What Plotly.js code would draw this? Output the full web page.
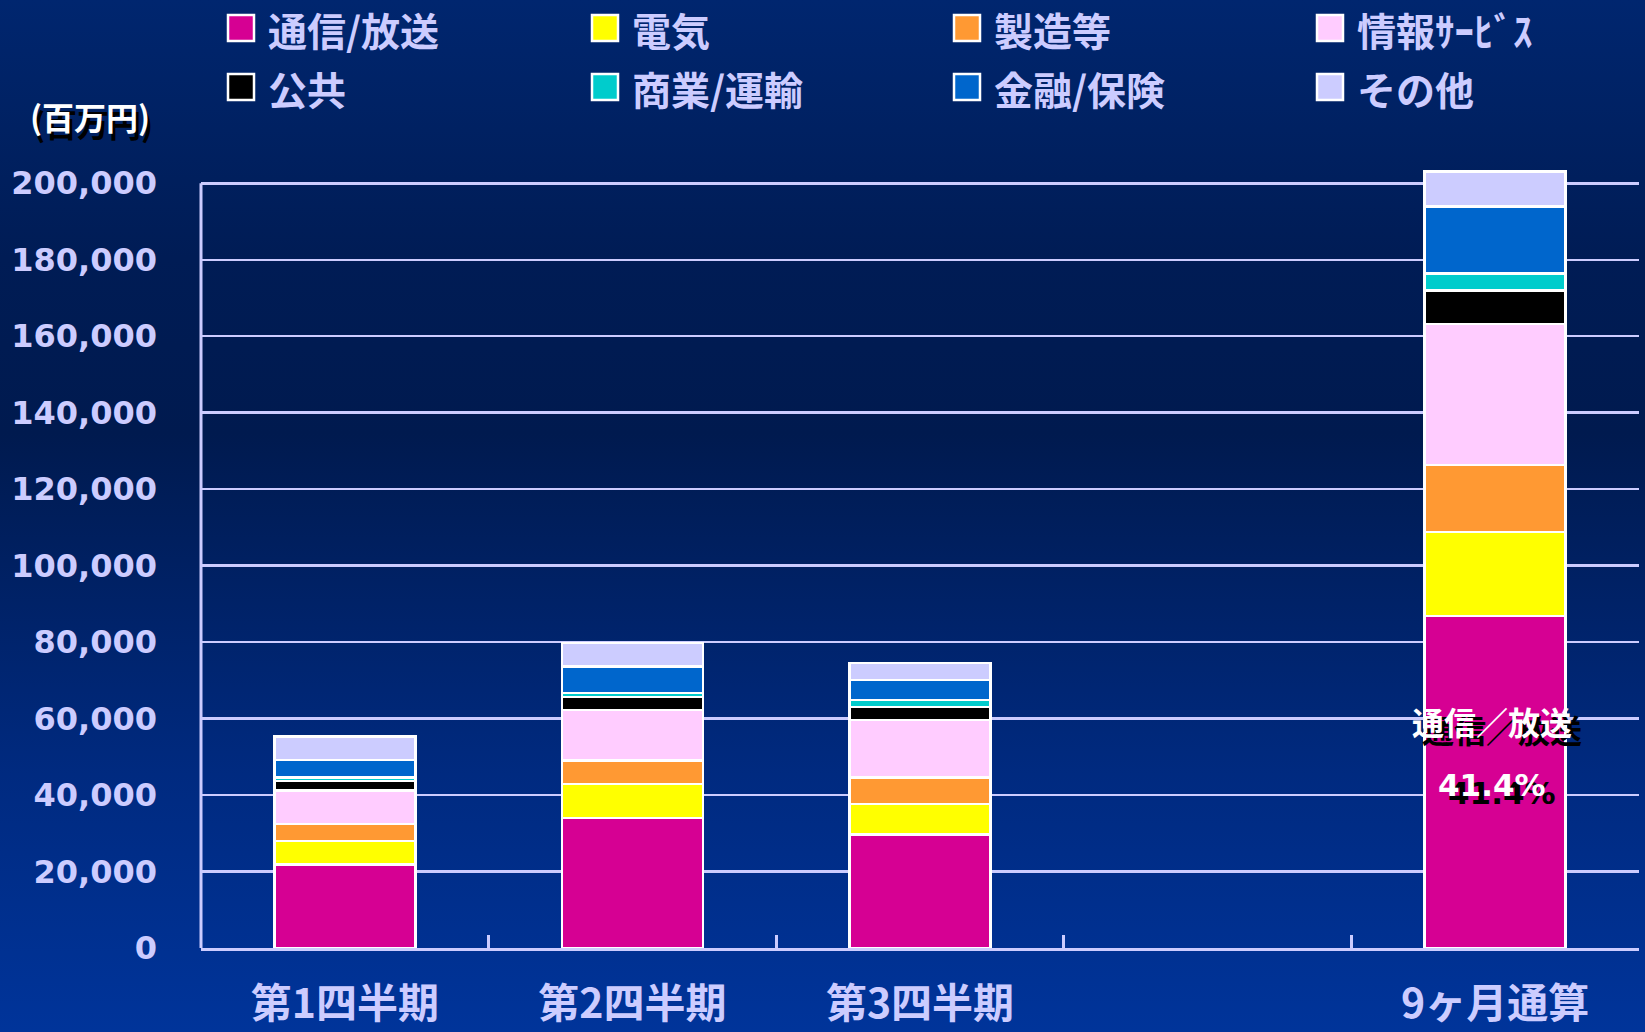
<!DOCTYPE html>
<html>
<head>
<meta charset="utf-8">
<script src="https://cdn.plot.ly/plotly-3.0.1.min.js"></script>
<style>
  html, body { margin: 0; padding: 0; }
  body {
    width: 1645px; height: 1032px; overflow: hidden;
    background: linear-gradient(to bottom, #00266f 0%, #001c55 25%, #001a4f 42%, #002a80 75%, #00349a 100%);
  }
  #chart { width: 1645px; height: 1032px; }
</style>
</head>
<body>
<div id="chart"></div>
<script>
// ---- data ----
const periods = ['第1四半期', '第2四半期', '第3四半期', ' ', '9ヶ月通算'];
const seriesNames = ['通信/放送', '電気', '製造等', '情報ｻｰﾋﾞｽ', '公共', '商業/運輸', '金融/保険', 'その他'];
const tsushinHoso = [21780, 34060, 29720, null, 86890];
const denki       = [6190, 8810, 7920, null, 21880];
const seizo       = [4440, 6190, 6980, null, 17590];
const johoService = [8810, 13150, 14980, null, 36810];
const kokyo       = [2500, 3500, 3480, null, 8810];
const shogyoUnyu  = [900, 1000, 1750, null, 4390];
const kinyuHoken  = [4520, 6900, 5230, null, 17620];
const sonota      = [6200, 6170, 4520, null, 9070];
const unitLabel = '(百万円)';
const shareName = '通信／放送';
const shareValue = '41.4%';

// ---- styles ----
const seriesValues = [tsushinHoso, denki, seizo, johoService, kokyo, shogyoUnyu, kinyuHoken, sonota];
const seriesColors = ['#D60093', '#FFFF00', '#FF9933', '#FFCCFF', '#000000', '#00CCCC', '#0066CC', '#CCCCFF'];
const LAV = '#CCCCFF';
const CJK = '"Noto Sans CJK JP", "Noto Sans", sans-serif';
const NUM = '"DejaVu Sans", "Liberation Sans", sans-serif';

const W = 1645, H = 1032;
const YTOP = 200000;      // top gridline / axis end
const YMAX = 204000;      // plot range (room for the 9-month bar)
const M = { l: 201, r: 6, t: 168, b: 84 };
const PW = W - M.l - M.r, PH = H - M.t - M.b;
const px2x = p => (p - M.l) / PW;
const px2y = p => (H - M.b - p) / PH;

const traces = seriesNames.map((name, i) => ({
  type: 'bar',
  name: name,
  x: periods,
  y: seriesValues[i],
  width: 0.49,
  marker: { color: seriesColors[i], line: { color: '#FFFFFF', width: 2.5 } },
  hoverinfo: 'x+y+name'
}));

// manual legend (4 columns x 2 rows)
const colX = [228, 592, 954, 1317];
const rowY = [28, 87];
const shapes = [];
const annotations = [];

// y axis line only up to the top gridline
shapes.push({
  type: 'line', xref: 'paper', yref: 'y', x0: 0, x1: 0, y0: 0, y1: YTOP,
  line: { color: LAV, width: 3 }, layer: 'above'
});

seriesNames.forEach((name, i) => {
  const c = i % 4, r = Math.floor(i / 4);
  shapes.push({
    type: 'rect', xref: 'paper', yref: 'paper',
    x0: px2x(colX[c]), x1: px2x(colX[c] + 26),
    y0: px2y(rowY[r] + 13), y1: px2y(rowY[r] - 13),
    fillcolor: seriesColors[i], line: { color: '#FFFFFF', width: 2.5 }
  });
  annotations.push({
    xref: 'paper', yref: 'paper', x: px2x(colX[c] + 38), y: px2y(rowY[r] + 1),
    xanchor: 'left', yanchor: 'middle', showarrow: false,
    text: name, font: { family: CJK, size: 39, color: LAV, weight: 'bold' }
  });
});

// unit label with shadow
annotations.push({
  xref: 'paper', yref: 'paper', x: px2x(90 + 3), y: px2y(116 + 7),
  xanchor: 'center', yanchor: 'middle', showarrow: false,
  text: unitLabel, font: { family: CJK, size: 32, color: '#000000', weight: 'bold' }
});
annotations.push({
  xref: 'paper', yref: 'paper', x: px2x(90), y: px2y(116),
  xanchor: 'center', yanchor: 'middle', showarrow: false,
  text: unitLabel, font: { family: CJK, size: 32, color: '#FFFFFF', weight: 'bold' }
});

// share label inside the 9-month bar (black shadow + white text)
const lastCat = periods[periods.length - 1];
const shareY1 = (H - M.b - 721) / PH * YMAX;
const shareY2 = (H - M.b - 785) / PH * YMAX;
[[shareName, shareY1, CJK, 32], [shareValue, shareY2, NUM, 31]].forEach(([t, yv, fam, sz]) => {
  annotations.push({
    xref: 'x', yref: 'y', x: lastCat, y: yv, xshift: 7, yshift: -8,
    xanchor: 'center', yanchor: 'middle', showarrow: false,
    text: t, font: { family: fam, size: sz, color: '#000000', weight: 'bold' }
  });
  annotations.push({
    xref: 'x', yref: 'y', x: lastCat, y: yv, xshift: -3,
    xanchor: 'center', yanchor: 'middle', showarrow: false,
    text: t, font: { family: fam, size: sz, color: '#FFFFFF', weight: 'bold' }
  });
});

const layout = {
  width: W, height: H,
  margin: M,
  paper_bgcolor: 'rgba(0,0,0,0)',
  plot_bgcolor: 'rgba(0,0,0,0)',
  barmode: 'stack',
  showlegend: false,
  xaxis: {
    type: 'category',
    range: [-0.5, 4.5],
    showline: true, linecolor: LAV, linewidth: 3,
    ticks: 'inside', tickson: 'boundaries', ticklen: 13, tickwidth: 3, tickcolor: LAV,
    showgrid: false, zeroline: false,
    tickfont: { family: CJK, size: 41, color: LAV, weight: 'bold' },
    ticklabelstandoff: 18,
    fixedrange: true
  },
  yaxis: {
    range: [0, YMAX],
    dtick: 20000, tick0: 0,
    tickformat: ',d',
    showline: false,
    showgrid: true, gridcolor: LAV, gridwidth: 2.5,
    zeroline: false, ticks: '',
    tickfont: { family: NUM, size: 32, color: LAV, weight: 'bold' },
    ticklabelstandoff: 43,
    fixedrange: true
  },
  shapes: shapes,
  annotations: annotations
};

Plotly.newPlot('chart', traces, layout, { displayModeBar: false, staticPlot: true });
</script>
</body>
</html>
